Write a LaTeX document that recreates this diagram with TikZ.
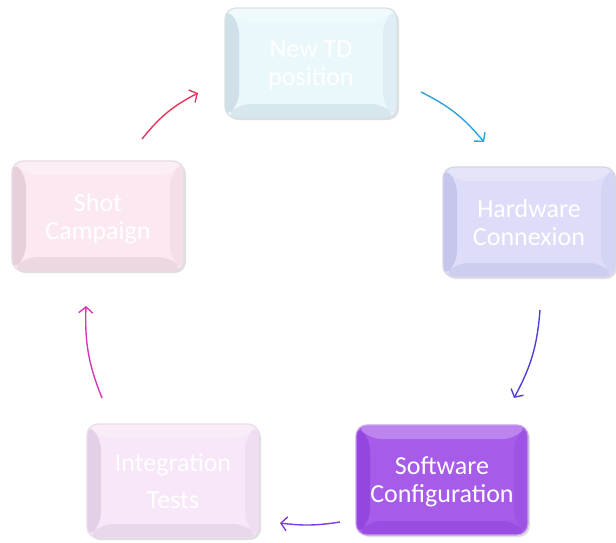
\documentclass[tikz,border=0pt]{standalone}
\usepackage{fontspec}
\setmainfont{Carlito}
\usetikzlibrary{arrows.meta,shadows}
\definecolor{cyanIn}{HTML}{EAF8FB}\definecolor{cyanEdge}{HTML}{CFE0E8}\definecolor{cyanLine}{HTML}{D8E0E4}
\definecolor{lavIn}{HTML}{DDDDF9}\definecolor{lavEdge}{HTML}{C6C6EC}\definecolor{lavLine}{HTML}{D5D5EA}
\definecolor{purIn}{HTML}{A65BE9}\definecolor{purEdge}{HTML}{9347DE}\definecolor{purLine}{HTML}{C9A0F0}
\definecolor{plIn}{HTML}{F7E7F9}\definecolor{plEdge}{HTML}{E3D0E7}\definecolor{plLine}{HTML}{E6DEE8}
\definecolor{pkIn}{HTML}{FBE8F1}\definecolor{pkEdge}{HTML}{E7D0DC}\definecolor{pkLine}{HTML}{E6DCE1}
\definecolor{aRed}{HTML}{E8355F}\definecolor{aBlue}{HTML}{2BA3D8}\definecolor{aIndigo}{HTML}{5040D8}
\definecolor{aPurple}{HTML}{7D3AE6}\definecolor{aMag}{HTML}{D43AB8}
\tikzset{
  stepbox/.style n args={3}{rounded corners=11pt, minimum width=172pt, minimum height=110pt,
    fill=#2, draw=#3, line width=1.2pt, text=white, align=center,
    font=\fontsize{26}{28}\selectfont, text depth=0pt,
    drop shadow={shadow xshift=2pt, shadow yshift=-2pt, opacity=0.25, fill=gray},
    path picture={
      \coordinate (SW) at (path picture bounding box.south west);
      \coordinate (NE) at (path picture bounding box.north east);
      \coordinate (NW) at (path picture bounding box.north west);
      \coordinate (SE) at (path picture bounding box.south east);
      \fill[#1] (NW) -- ([shift={(14pt,-14pt)}]NW) -- ([shift={(14pt,14pt)}]SW) -- (SW) -- cycle;
      \fill[#1!70!#2] (SW) -- ([shift={(14pt,14pt)}]SW) -- ([shift={(-14pt,14pt)}]SE) -- (SE) -- cycle;
      \fill[white!25!#2] (NW) -- ([shift={(14pt,-14pt)}]NW) -- ([shift={(-14pt,-14pt)}]NE) -- (NE) -- cycle;
      \fill[#1!40!#2] (NE) -- ([shift={(-14pt,-14pt)}]NE) -- ([shift={(-14pt,14pt)}]SE) -- (SE) -- cycle;
    }},
  cyc/.style={line width=1.4pt, -{Straight Barb[length=6pt,width=14pt]}}
}
\begin{document}
\begin{tikzpicture}[x=1pt,y=-1pt]
\useasboundingbox (0,0) rectangle (616,542);
\node[stepbox={cyanEdge}{cyanIn}{cyanLine}] (td) at (311,63) {New TD\\position};
\node[stepbox={lavEdge}{lavIn}{lavLine}] (hw) at (529,222) {Hardware\\Connexion};
\node[stepbox={purEdge}{purIn}{purLine}] (sw) at (442,480) {Software\\Configuration};
\node[stepbox={plEdge}{plIn}{plLine}, minimum height=114pt] (it) at (173,481) {Integration\\[9pt]Tests};
\node[stepbox={pkEdge}{pkIn}{pkLine}] (sc) at (98,216) {Shot\\Campaign};
\coordinate (r1) at (142,139); \coordinate (r2) at (198,93);
\coordinate (b1) at (421,92);  \coordinate (b2) at (484,142);
\coordinate (i1) at (540,310); \coordinate (i2) at (514,398);
\coordinate (p1) at (340,522); \coordinate (p2) at (280,523);
\coordinate (m1) at (102,398); \coordinate (m2) at (86,306);
\draw[cyc, aRed] (r1) to[bend left=12] (r2);
\draw[cyc, aBlue] (b1) to[bend left=12] (b2);
\draw[cyc, aIndigo] (i1) to[bend left=12] (i2);
\draw[cyc, aPurple] (p1) to[bend left=8] (p2);
\draw[cyc, aMag] (m1) to[bend left=12] (m2);
\end{tikzpicture}
\end{document}
